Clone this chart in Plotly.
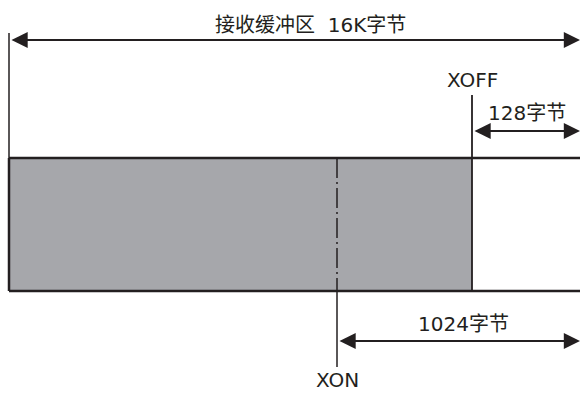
import plotly.graph_objects as go

# diagram units (roughly pixels of the 580 x 393 drawing)
buffer_left = 9
buffer_right = 580
buffer_top = 158
buffer_bottom = 291
fill_end = 472          # XOFF position

mark_names = ["XON", "XOFF"]
mark_x = [337, 472]
mark_label_y = [380, 80]

span_labels = ["接收缓冲区\u00a0\u00a016K字节", "128字节", "1024字节"]
span_start = [10, 473, 338]
span_end = [580, 580, 580]
span_y = [40, 131, 341]
span_label_x = [310, 527, 463]
span_label_y = [25, 113, 324]

ink = "#231f20"
gray = "#a6a7ab"
font = dict(family="DejaVu Sans, Noto Sans CJK SC, sans-serif", size=20, color=ink)

fig = go.Figure()
fig.add_trace(go.Scatter(x=[0, 580], y=[0, 393], mode="markers",
                         marker=dict(opacity=0), hoverinfo="skip", showlegend=False))

shapes = []
# filled part of the buffer
shapes.append(dict(type="rect", x0=buffer_left, x1=fill_end, y0=buffer_top, y1=buffer_bottom,
                   fillcolor=gray, line=dict(width=0), layer="below"))
# buffer outline (no right edge)
shapes.append(dict(type="line", x0=buffer_left, x1=buffer_right, y0=buffer_top, y1=buffer_top,
                   line=dict(color=ink, width=2.5)))
shapes.append(dict(type="line", x0=buffer_left, x1=buffer_right, y0=buffer_bottom, y1=buffer_bottom,
                   line=dict(color=ink, width=2.5)))
shapes.append(dict(type="line", x0=buffer_left, x1=buffer_left, y0=buffer_top, y1=buffer_bottom,
                   line=dict(color=ink, width=2.5)))
# left extension line for the total-size arrow
shapes.append(dict(type="line", x0=buffer_left, x1=buffer_left, y0=33, y1=buffer_top,
                   line=dict(color=ink, width=1.5)))
# XOFF line
shapes.append(dict(type="line", x0=mark_x[1], x1=mark_x[1], y0=95, y1=buffer_bottom,
                   line=dict(color=ink, width=1.8)))
# XON line: dash-dot inside buffer, solid below
shapes.append(dict(type="line", x0=mark_x[0], x1=mark_x[0], y0=buffer_top, y1=buffer_bottom,
                   line=dict(color=ink, width=1.5, dash="20px,4px,2px,4px")))
shapes.append(dict(type="line", x0=mark_x[0], x1=mark_x[0], y0=buffer_bottom, y1=367,
                   line=dict(color=ink, width=1.5)))

annotations = []
for x0, x1, y in zip(span_start, span_end, span_y):
    annotations.append(dict(x=x1, y=y, ax=x0, ay=y, xref="x", yref="y", axref="x", ayref="y",
                            text="", showarrow=True, arrowhead=2, arrowside="end+start",
                            arrowsize=1.8, arrowwidth=1.8, arrowcolor=ink,
                            standoff=0, startstandoff=0))
for label, x, y in zip(span_labels, span_label_x, span_label_y):
    annotations.append(dict(x=x, y=y, xref="x", yref="y", text=label, showarrow=False,
                            font=font, xanchor="center", yanchor="middle"))
for name, x, y in zip(mark_names, mark_x, mark_label_y):
    annotations.append(dict(x=x, y=y, xref="x", yref="y", text=name, showarrow=False,
                            font=font, xanchor="center", yanchor="middle"))

fig.update_layout(width=580, height=393, margin=dict(l=0, r=0, t=0, b=0),
                  paper_bgcolor="white", plot_bgcolor="white",
                  shapes=shapes, annotations=annotations, showlegend=False,
                  xaxis=dict(range=[0, 580], visible=False, fixedrange=True),
                  yaxis=dict(range=[393, 0], visible=False, fixedrange=True))
fig.write_html("out.html", config={"displayModeBar": False},
               post_script="document.body.style.margin='0';document.body.style.overflow='hidden';")
